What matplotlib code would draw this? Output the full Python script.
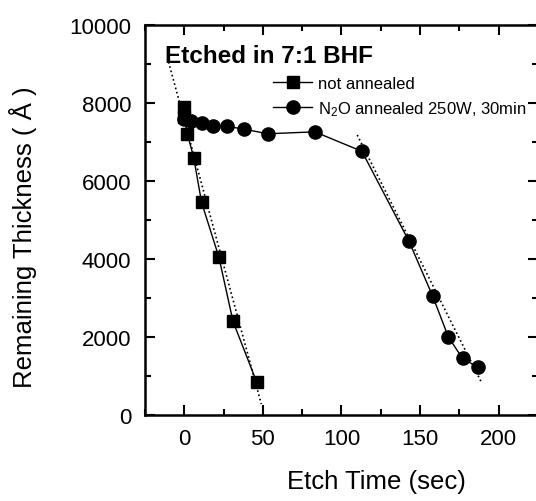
import matplotlib
matplotlib.use("Agg")
import matplotlib.pyplot as plt
from matplotlib.ticker import MultipleLocator

plt.rcParams['font.family'] = ['Liberation Sans', 'DejaVu Sans']
plt.rcParams['mathtext.default'] = 'regular'

# not annealed
t_na = [0, 0, 2, 6, 11, 22, 31, 46]
d_na = [7900, 7650, 7200, 6600, 5450, 4050, 2400, 850]

# N2O annealed 250W, 30min
t_an = [0, 4, 11, 18, 27, 38, 53, 83, 113, 143, 158, 168, 177, 187]
d_an = [7600, 7550, 7480, 7420, 7400, 7330, 7210, 7260, 6760, 4450, 3050, 2000, 1450, 1220]

# linear fits (dotted)
fit1_t = [-10, 49]
fit1_d = [9050, 280]
fit2_t = [110, 189]
fit2_d = [7180, 840]

fig = plt.figure(figsize=(5.36, 5.02), dpi=100)
ax = fig.add_axes([0.2705, 0.1713, 0.7332, 0.777])

ax.plot(fit1_t, fit1_d, ':', color='black', lw=1.2)
ax.plot(fit2_t, fit2_d, ':', color='black', lw=1.2)
ax.plot(t_na, d_na, '-s', color='black', lw=1, ms=8.5, label='not annealed')
ax.plot(t_an, d_an, '-o', color='black', lw=1, ms=9.5, label=r'N$_2$O annealed 250W, 30min')

ax.set_xlim(-25, 225)
ax.set_ylim(0, 10000)
ax.xaxis.set_major_locator(MultipleLocator(50))
ax.xaxis.set_minor_locator(MultipleLocator(25))
ax.yaxis.set_major_locator(MultipleLocator(2000))
ax.yaxis.set_minor_locator(MultipleLocator(1000))
ax.tick_params(which='both', direction='in', top=True, right=True, width=1.5, labelsize=16)
ax.tick_params(which='major', length=7)
ax.tick_params(which='minor', length=4)
ax.tick_params(axis='y', pad=10)
ax.tick_params(axis='x', pad=9)
for s in ax.spines.values():
    s.set_linewidth(1.8)

ax.set_xlabel("Etch Time (sec)", fontsize=18.5)
ax.set_ylabel("Remaining Thickness ( Å )", fontsize=18.5)
ax.xaxis.set_label_coords(0.588, -0.138)
ax.yaxis.set_label_coords(-0.275, 0.459)

ax.text(-12, 9050, "Etched in 7:1 BHF", fontsize=17.5, fontweight='bold', va='baseline')

leg = ax.legend(loc='upper left', bbox_to_anchor=(0.326, 0.87), frameon=False, fontsize=12,
                handlelength=2.35, handletextpad=0.35, labelspacing=0.5, borderaxespad=0,
                borderpad=0)

plt.savefig("out.png", dpi=100)
